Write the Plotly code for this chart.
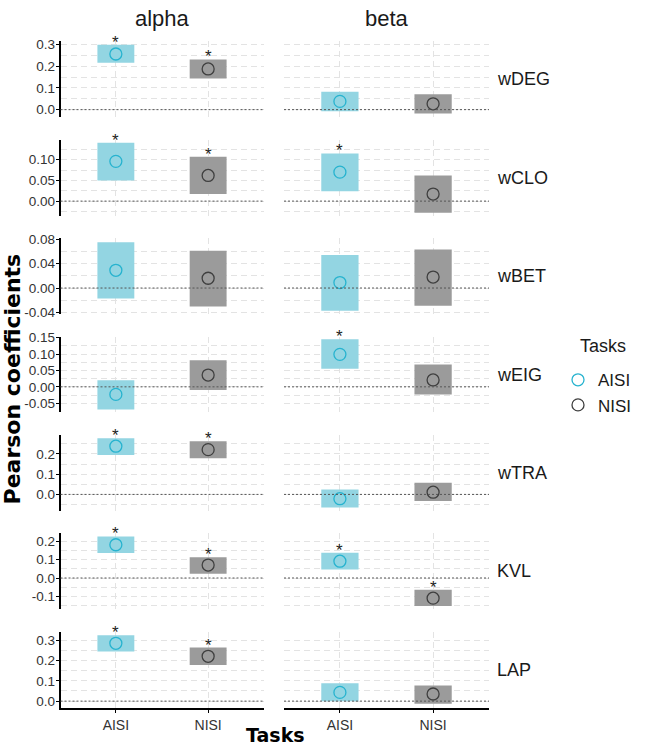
import plotly.graph_objects as go

# ---------------- data ----------------
measures = ["wDEG", "wCLO", "wBET", "wEIG", "wTRA", "KVL", "LAP"]
params = ["alpha", "beta"]
tasks = ["AISI", "NISI"]

alpha_aisi_est = [0.257, 0.096, 0.029, -0.023, 0.238, 0.180, 0.284]
alpha_aisi_lo = [0.216, 0.050, -0.017, -0.069, 0.195, 0.135, 0.244]
alpha_aisi_hi = [0.300, 0.141, 0.075, 0.020, 0.277, 0.225, 0.324]
alpha_aisi_sig = [1, 1, 0, 0, 1, 1, 1]

alpha_nisi_est = [0.188, 0.062, 0.016, 0.036, 0.221, 0.070, 0.220]
alpha_nisi_lo = [0.144, 0.017, -0.030, -0.010, 0.179, 0.023, 0.178]
alpha_nisi_hi = [0.232, 0.107, 0.061, 0.081, 0.262, 0.112, 0.263]
alpha_nisi_sig = [1, 1, 0, 0, 1, 1, 1]

beta_aisi_est = [0.038, 0.070, 0.009, 0.099, -0.021, 0.091, 0.043]
beta_aisi_lo = [-0.008, 0.024, -0.037, 0.055, -0.065, 0.046, 0.000]
beta_aisi_hi = [0.083, 0.115, 0.054, 0.145, 0.024, 0.137, 0.088]
beta_aisi_sig = [0, 1, 0, 1, 0, 1, 0]

beta_nisi_est = [0.027, 0.017, 0.018, 0.021, 0.011, -0.109, 0.035]
beta_nisi_lo = [-0.018, -0.028, -0.029, -0.023, -0.033, -0.152, -0.013]
beta_nisi_hi = [0.071, 0.062, 0.063, 0.068, 0.057, -0.063, 0.077]
beta_nisi_sig = [0, 0, 0, 0, 0, 1, 0]

y_tickvals = [
    [0.0, 0.1, 0.2, 0.3],
    [0.00, 0.05, 0.10],
    [-0.04, 0.00, 0.04, 0.08],
    [-0.05, 0.00, 0.05, 0.10, 0.15],
    [0.0, 0.1, 0.2],
    [-0.1, 0.0, 0.1, 0.2],
    [0.0, 0.1, 0.2, 0.3],
]
y_ticktext = [
    ["0.0", "0.1", "0.2", "0.3"],
    ["0.00", "0.05", "0.10"],
    ["-0.04", "0.00", "0.04", "0.08"],
    ["-0.05", "0.00", "0.05", "0.10", "0.15"],
    ["0.0", "0.1", "0.2"],
    ["-0.1", "0.0", "0.1", "0.2"],
    ["0.0", "0.1", "0.2", "0.3"],
]
y_minor = [0.05, 0.025, 0.02, 0.025, 0.05, 0.05, 0.05]
y_ranges = [
    [-0.035, 0.315],
    [-0.035, 0.148],
    [-0.0425, 0.0815],
    [-0.078, 0.153],
    [-0.081, 0.293],
    [-0.169, 0.241],
    [-0.032, 0.340],
]

series = {
    ("alpha", "AISI"): (alpha_aisi_est, alpha_aisi_lo, alpha_aisi_hi, alpha_aisi_sig),
    ("alpha", "NISI"): (alpha_nisi_est, alpha_nisi_lo, alpha_nisi_hi, alpha_nisi_sig),
    ("beta", "AISI"): (beta_aisi_est, beta_aisi_lo, beta_aisi_hi, beta_aisi_sig),
    ("beta", "NISI"): (beta_nisi_est, beta_nisi_lo, beta_nisi_hi, beta_nisi_sig),
}

fill_col = {"AISI": "#93D5E2", "NISI": "#9B9B9B"}
mark_col = {"AISI": "#27B3CF", "NISI": "#3F3F3F"}

# ---------------- layout geometry ----------------
W, H = 646, 754
FONT = "Liberation Sans, Arial, sans-serif"
BOLD_FONT = "DejaVu Sans, Verdana, sans-serif"
col_px = [(60.5, 263.5), (284.0, 489.0)]
row_top0, row_step, row_h = 36.0, 100.0, 77.0
GRID = "#E3E3E3"

fig = go.Figure()
layout = dict(
    width=W, height=H,
    margin=dict(l=0, r=0, t=0, b=0),
    paper_bgcolor="white", plot_bgcolor="white",
    barmode="overlay",
    font=dict(family=FONT, color="#333333"),
    showlegend=True,
)
annotations = []
shapes = []

for r, meas in enumerate(measures):
    top = row_top0 + row_step * r
    bot = top + row_h
    for c, par in enumerate(params):
        i = r * 2 + c + 1
        sfx = "" if i == 1 else str(i)
        xa, ya = "x" + sfx, "y" + sfx
        x0, x1 = col_px[c]
        last_row = r == len(measures) - 1
        layout["xaxis" + sfx] = dict(
            domain=[x0 / W, x1 / W], anchor=ya, type="category",
            categoryorder="array", categoryarray=tasks, range=[-0.6, 1.6],
            showgrid=True, gridcolor=GRID, griddash="6px,4px", gridwidth=1,
            showline=last_row, linecolor="black", linewidth=1.6,
            ticks="outside" if last_row else "", ticklen=4, tickcolor="black",
            showticklabels=last_row, tickfont=dict(size=14, color="#333333", family=FONT),
            zeroline=False, fixedrange=True,
        )
        layout["yaxis" + sfx] = dict(
            domain=[(H - bot) / H, (H - top) / H], anchor=xa,
            range=y_ranges[r], tickmode="array",
            tickvals=y_tickvals[r], ticktext=y_ticktext[r],
            showgrid=True, gridcolor=GRID, griddash="6px,4px", gridwidth=1,
            minor=dict(dtick=y_minor[r], tick0=0, showgrid=True, gridcolor=GRID,
                       griddash="6px,4px", gridwidth=1, ticks=""),
            showline=(c == 0), linecolor="black", linewidth=1.6,
            ticks="outside" if c == 0 else "", ticklen=3, tickcolor="black",
            showticklabels=(c == 0), tickfont=dict(size=13.5, color="#333333", family=FONT),
            ticklabelstandoff=-2,
            zeroline=False, fixedrange=True,
        )
        for t in tasks:
            est, lo, hi, sig = series[(par, t)]
            fig.add_trace(go.Bar(
                x=[t], y=[hi[r] - lo[r]], base=[lo[r]], width=0.4,
                marker=dict(color=fill_col[t], line=dict(width=0)),
                xaxis=xa, yaxis=ya, showlegend=False, hoverinfo="skip",
            ))
        # zero reference line
        shapes.append(dict(
            type="line", xref=xa + " domain", x0=0, x1=1, yref=ya, y0=0, y1=0,
            line=dict(color="#555555", width=1, dash="2px,2px"), layer="above",
        ))
        for t in tasks:
            est, lo, hi, sig = series[(par, t)]
            fig.add_trace(go.Scatter(
                x=[t], y=[est[r]], mode="markers",
                marker=dict(symbol="circle-open", size=12, color=mark_col[t],
                            line=dict(width=1.3, color=mark_col[t])),
                xaxis=xa, yaxis=ya, name=t, legendgroup=t,
                showlegend=(i == 1), hoverinfo="skip",
            ))
            if sig[r]:
                annotations.append(dict(
                    x=t, y=hi[r], xref=xa, yref=ya, text="*", showarrow=False,
                    yanchor="bottom", yshift=-9, font=dict(size=17, color="#222222", family=FONT),
                ))
    # strip label on the right
    annotations.append(dict(
        x=495 / W, y=(H - (top + bot) / 2) / H, xref="paper", yref="paper",
        text=meas, showarrow=False, xanchor="left", yanchor="middle",
        font=dict(size=18, color="#1a1a1a", family=FONT),
    ))

# column titles
for c, par in enumerate(params):
    x0, x1 = col_px[c]
    annotations.append(dict(
        x=(x0 + x1) / 2 / W, y=(H - 13) / H, xref="paper", yref="paper",
        text=par, showarrow=False, xanchor="center", yanchor="middle",
        font=dict(size=22, color="#1a1a1a", family=FONT),
    ))

# axis titles
annotations.append(dict(
    x=12.5 / W, y=(H - 379) / H, xref="paper", yref="paper",
    text="<b>Pearson coefficients</b>", showarrow=False, textangle=-90,
    xanchor="center", yanchor="middle",
    font=dict(size=22, color="black", family=BOLD_FONT),
))
annotations.append(dict(
    x=275 / W, y=(H - 741) / H, xref="paper", yref="paper",
    text="<b>Tasks</b>", showarrow=False, xanchor="center", yanchor="middle",
    font=dict(size=19, color="black", family=BOLD_FONT),
))
# legend title
annotations.append(dict(
    x=578 / W, y=(H - 345) / H, xref="paper", yref="paper",
    text="Tasks", showarrow=False, xanchor="left", yanchor="middle",
    font=dict(size=18, color="#1a1a1a", family=FONT),
))

layout["annotations"] = annotations
layout["shapes"] = shapes
layout["legend"] = dict(
    x=558 / W, y=(H - 362) / H, xanchor="left", yanchor="top",
    font=dict(size=17, color="#1a1a1a", family=FONT),
    bgcolor="rgba(0,0,0,0)", borderwidth=0, tracegroupgap=0,
)
fig.update_layout(**layout)
fig.write_html("out.html")
